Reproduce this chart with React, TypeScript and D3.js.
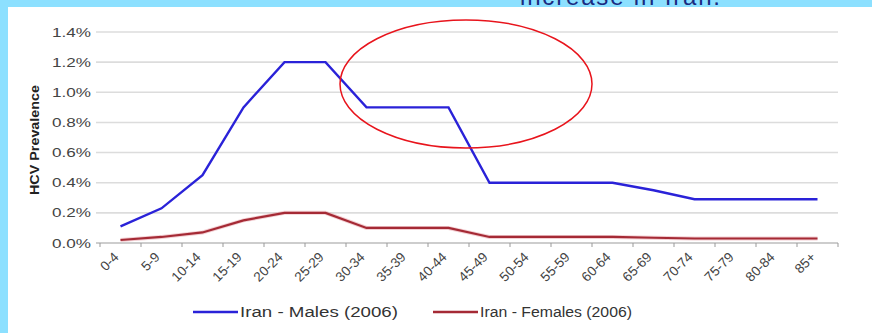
import React from "react";
import * as d3 from "d3";

const categories = ["0-4","5-9","10-14","15-19","20-24","25-29","30-34","35-39","40-44","45-49","50-54","55-59","60-64","65-69","70-74","75-79","80-84","85+"];
const males = [0.11,0.23,0.45,0.9,1.2,1.2,0.9,0.9,0.9,0.4,0.4,0.4,0.4,0.35,0.29,0.29,0.29,0.29];
const females = [0.02,0.04,0.07,0.15,0.2,0.2,0.1,0.1,0.1,0.04,0.04,0.04,0.04,0.035,0.03,0.03,0.03,0.03];
const yTicks = [0,0.2,0.4,0.6,0.8,1.0,1.2,1.4];
const seriesNames = ["Iran - Males (2006)", "Iran - Females (2006)"];

export default function App() {
  const W = 872, H = 333;
  const x = d3.scaleBand<string>().domain(categories).range([100, 838]);
  const y = d3.scaleLinear().domain([0, 1.4]).range([243, 32]);
  const cx = (c: string) => (x(c) as number) + x.bandwidth() / 2;
  const line = d3.line<number>().x((_, i) => cx(categories[i])).y(d => y(d));
  const font = "Arial, 'Liberation Sans', sans-serif";
  const boundaries = [...categories.map(c => x(c) as number), 838];
  return (
    <svg width={W} height={H} style={{ position: "absolute", left: 0, top: 0, background: "#fff" }} fontFamily={font}>
      <rect x={0} y={0} width={W} height={7} fill="#8ce0ff" />
      <rect x={0} y={0} width={8} height={H} fill="#8ce0ff" />
      <text x={520} y={5} fontSize={24} fill="#1a2a80" textLength={200}>increase in Iran.</text>
      {yTicks.map(t => (
        <g key={t}>
          <line x1={96} x2={838} y1={y(t)} y2={y(t)} stroke={t === 0 ? "#bdbdbd" : "#dcdcdc"} strokeWidth={1.6} />
          <text x={91} y={y(t) + 4.5} textAnchor="end" fontSize={13} fill="#444" textLength={39} lengthAdjust="spacingAndGlyphs">{t.toFixed(1)}%</text>
        </g>
      ))}
      {boundaries.map((b, i) => (
        <line key={i} x1={b} x2={b} y1={243} y2={247} stroke="#999" strokeWidth={1} />
      ))}
      {categories.map(c => (
        <text key={c} transform={`translate(${cx(c) - 1},${258}) rotate(-45)`} textAnchor="end" fontSize={13.5} fill="#444">{c}</text>
      ))}
      <text transform={`translate(39,140) rotate(-90)`} textAnchor="middle" fontSize={12.5} fontWeight="bold" fill="#222" textLength={110} lengthAdjust="spacingAndGlyphs">HCV Prevalence</text>
      <path d={line(females) || ""} fill="none" stroke="#e8a0a8" strokeWidth={4} opacity={0.5} />
      <path d={line(females) || ""} fill="none" stroke="#a52a35" strokeWidth={2.2} />
      <path d={line(males) || ""} fill="none" stroke="#2a22d8" strokeWidth={2.4} />
      <ellipse cx={466} cy={84} rx={126} ry={64} fill="none" stroke="#e8141c" strokeWidth={1.5} />
      <line x1={193} x2={238} y1={312} y2={312} stroke="#2a22d8" strokeWidth={2.4} />
      <text x={240} y={317} fontSize={14} fill="#333" textLength={158} lengthAdjust="spacingAndGlyphs">{seriesNames[0]}</text>
      <line x1={433} x2={478} y1={312} y2={312} stroke="#a52a35" strokeWidth={2.4} />
      <text x={480} y={317} fontSize={14} fill="#333" textLength={152} lengthAdjust="spacingAndGlyphs">{seriesNames[1]}</text>
    </svg>
  );
}
